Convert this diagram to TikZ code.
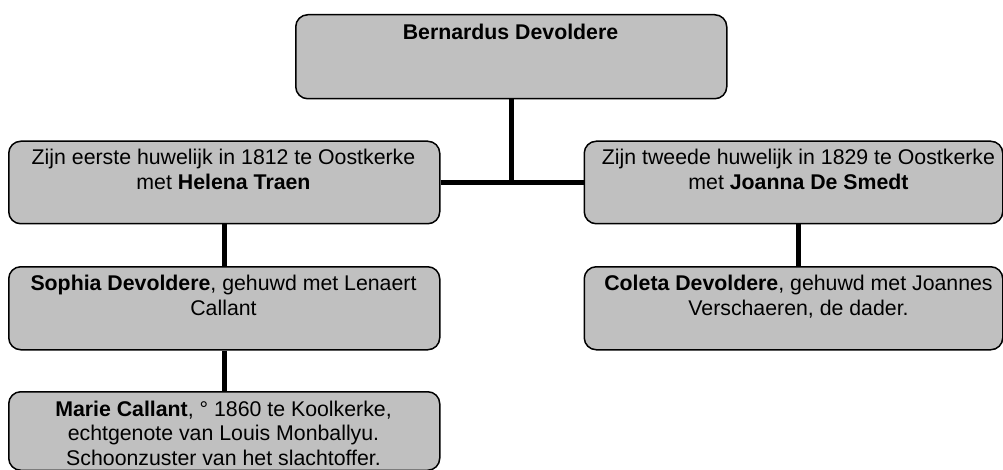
\documentclass[tikz,border=0pt]{standalone}
\usepackage{fontspec}
\setmainfont{Liberation Sans}
\definecolor{boxgray}{RGB}{192,192,192}
\begin{document}
\begin{tikzpicture}[x=1pt,y=-1pt,
  box/.style={draw=black, line width=1.5pt, fill=boxgray, rounded corners=12pt,
    inner sep=0pt, anchor=north west},
  txt/.style={align=center, inner sep=0pt, anchor=north,
    font=\fontsize{21.3}{24.7}\selectfont},
  link/.style={draw=black, line width=5pt}]
\useasboundingbox (0,0) rectangle (1003,470);
% boxes
\node[box, minimum width=431pt, minimum height=84pt] (top) at (295,14) {};
\node[box, minimum width=431pt, minimum height=82.5pt] (l1) at (8,140.5) {};
\node[box, minimum width=431pt, minimum height=83pt] (l2) at (8,266) {};
\node[box, minimum width=431pt, minimum height=78.5pt] (l3) at (8,391) {};
\node[box, minimum width=418.5pt, minimum height=82.5pt] (r1) at (583.5,140.5) {};
\node[box, minimum width=418.5pt, minimum height=83pt] (r2) at (583.5,266) {};
% texts
\node[txt] (topt) at (510.5,24.3) {\textbf{Bernardus Devoldere}};
\node[txt] (l1t) at (223.5,149.3) {Zijn eerste huwelijk in 1812 te Oostkerke\\met \textbf{Helena Traen}};
\node[txt] (l2t) at (223.5,274.8) {\textbf{Sophia Devoldere}, gehuwd met Lenaert\\Callant};
\node[txt] (l3t) at (223.5,400.5) {\textbf{Marie Callant}, ° 1860 te Koolkerke,\\echtgenote van Louis Monballyu.\\Schoonzuster van het slachtoffer.};
\node[txt] (r1t) at (798.5,149.3) {Zijn tweede huwelijk in 1829 te Oostkerke\\met \textbf{Joanna De Smedt}};
\node[txt] (r2t) at (798.5,274.8) {\textbf{Coleta Devoldere}, gehuwd met Joannes\\Verschaeren, de dader.};
% connectors
\coordinate (rx) at (798.5,0);
\draw[link] (top.south) -- (top.south |- l1.east);
\draw[link] (l1.east) -- (r1.west);
\draw[link] (l1.south) -- (l2.north);
\draw[link] (l2.south) -- (l3.north);
\draw[link] (rx |- r1.south) -- (rx |- r2.north);
\end{tikzpicture}
\end{document}
